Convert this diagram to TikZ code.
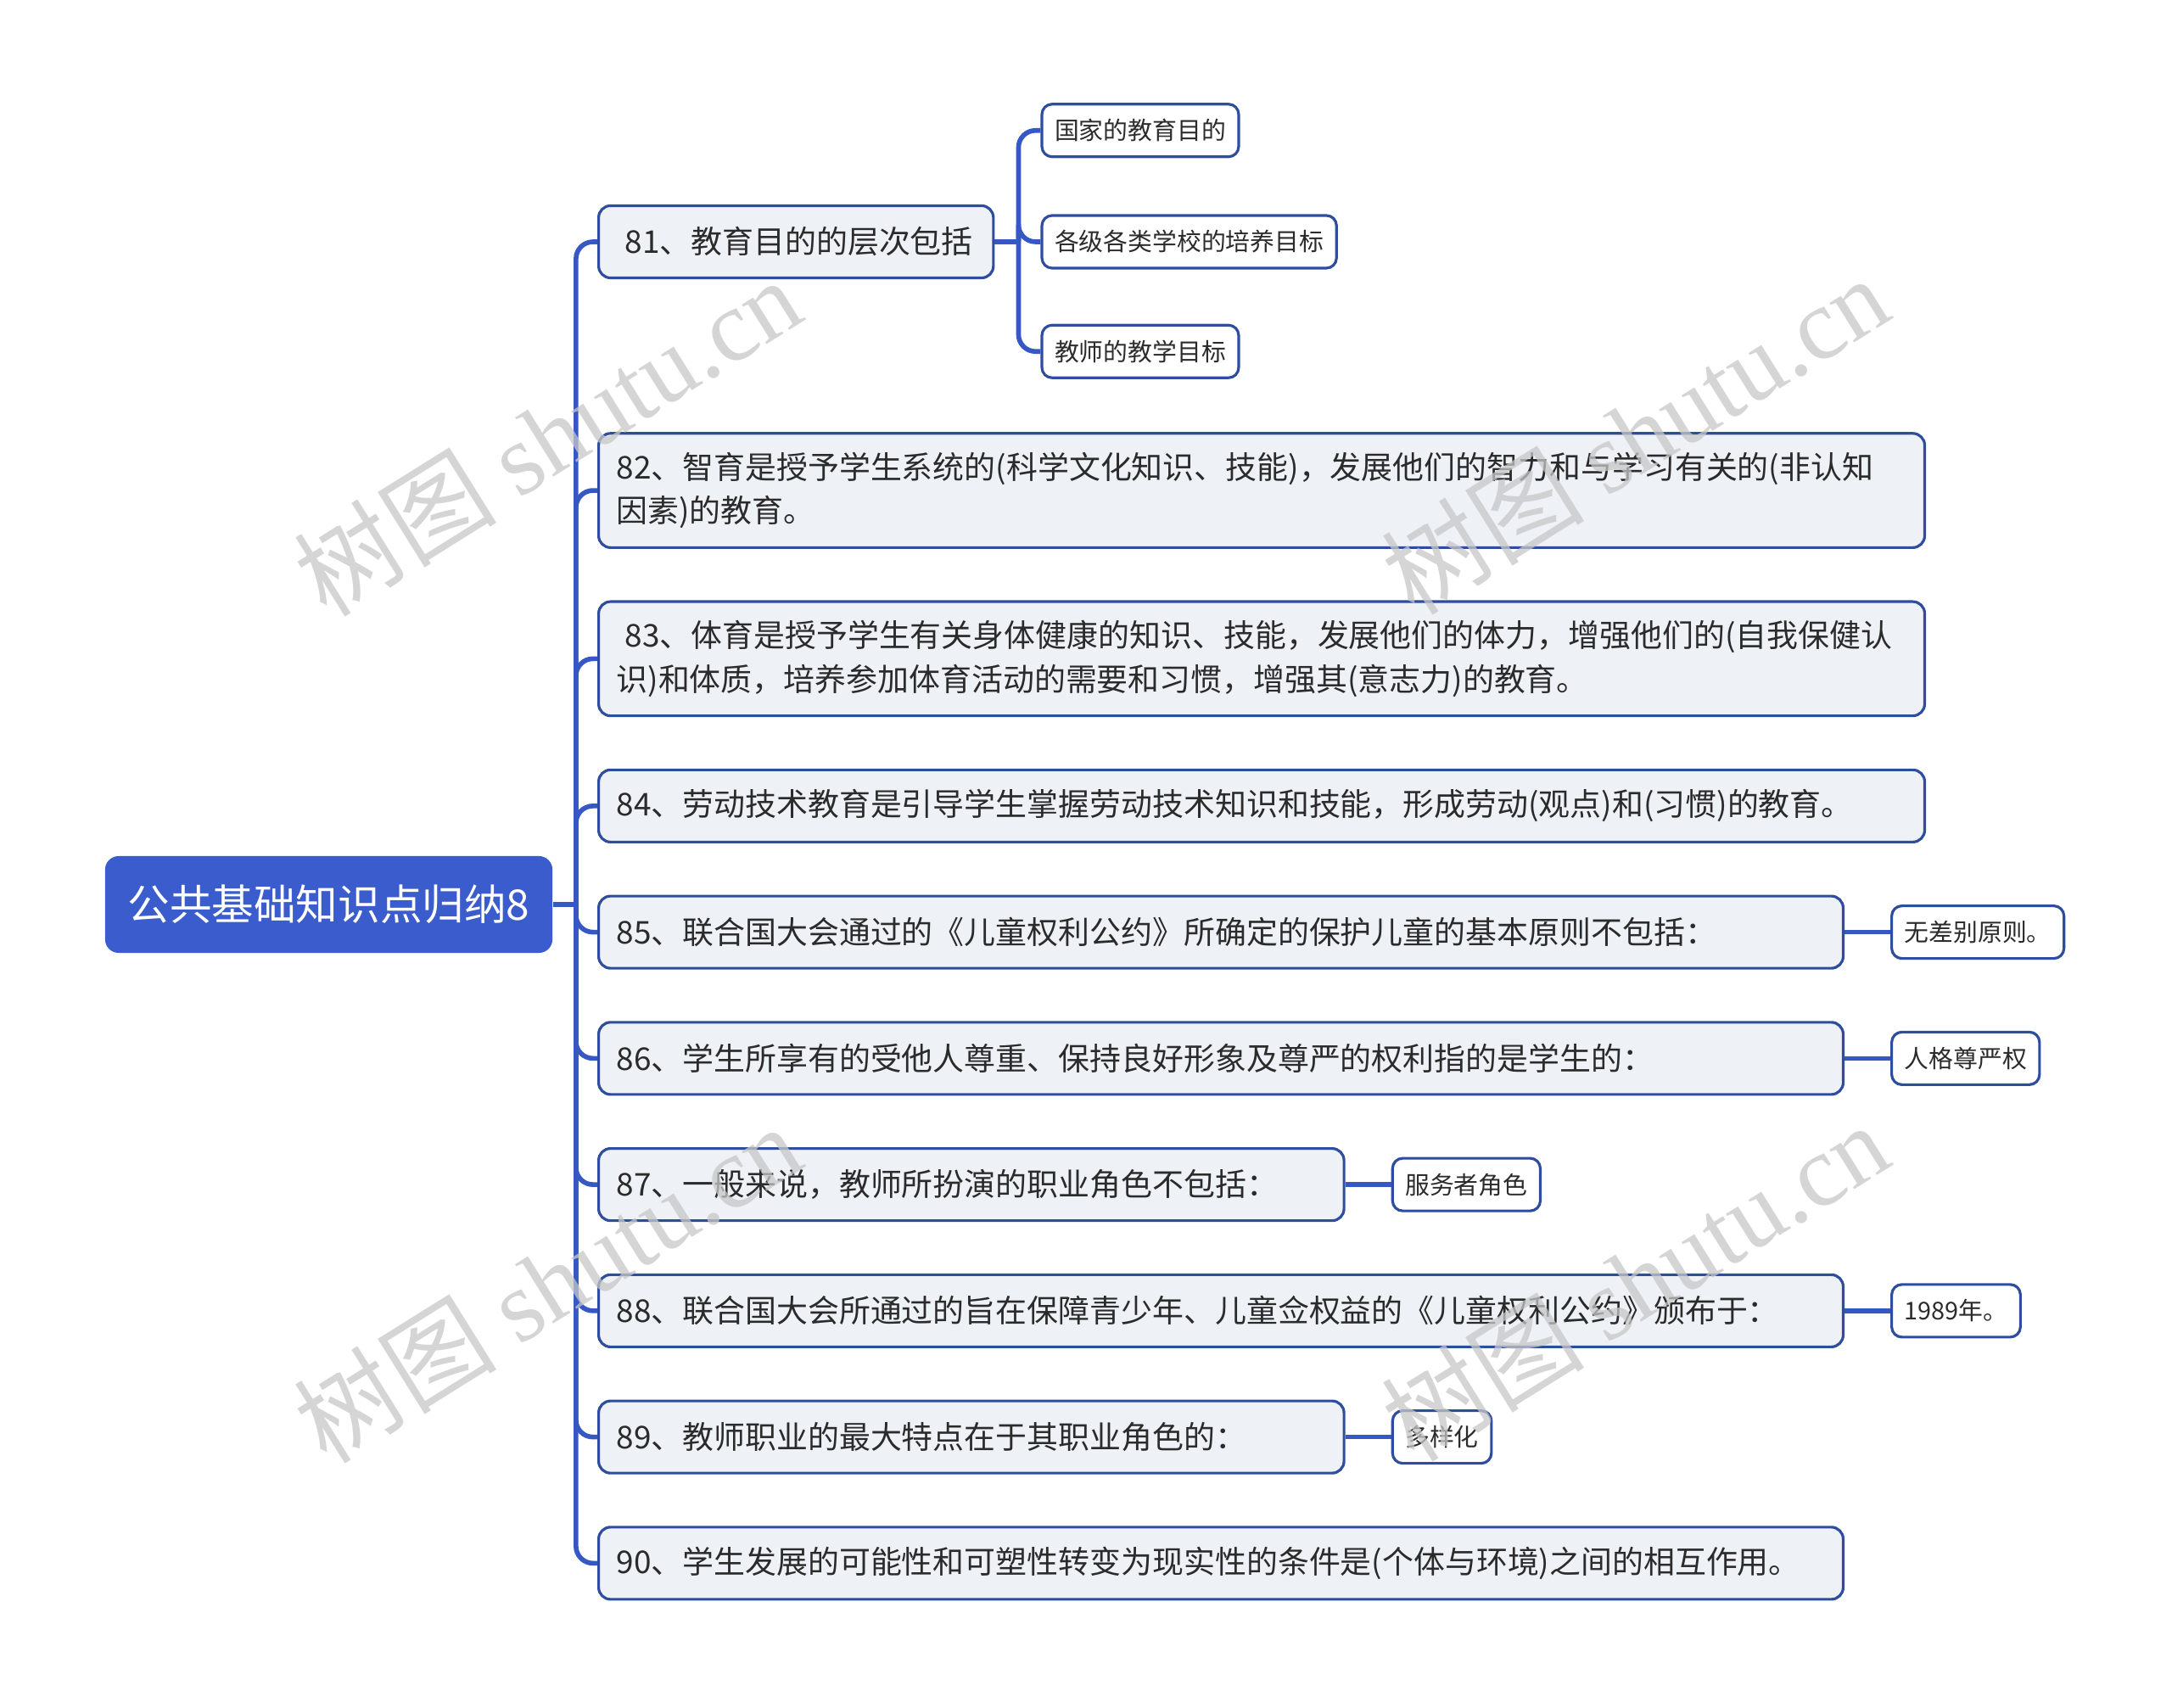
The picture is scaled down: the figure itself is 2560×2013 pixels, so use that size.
\documentclass[tikz,border=0pt]{standalone}
\usepackage{fontspec}
\setmainfont{Noto Sans CJK SC}
\newfontfamily\wmserif{Liberation Serif}
\usetikzlibrary{positioning}

\definecolor{rootblue}{HTML}{3A5CCC}
\definecolor{linkblue}{HTML}{3658C4}
\definecolor{edgeblue}{HTML}{2F4D9E}
\definecolor{topicfill}{HTML}{EEF1F6}
\definecolor{inkgray}{HTML}{2B2B2B}

\tikzset{
  root/.style={fill=rootblue, text=white, rounded corners=0.16cm, minimum width=5.27cm,
    minimum height=1.14cm, inner sep=0pt, font=\fontsize{14.1}{17}\selectfont},
  topic/.style={draw=edgeblue, fill=topicfill, text=inkgray, line width=0.9pt,
    rounded corners=0.14cm, align=left, inner xsep=0.21cm, inner ysep=0pt,
    minimum height=0.85cm, font=\fontsize{10.5}{14.6}\selectfont},
  twoline/.style={minimum height=1.345cm},
  leaf/.style={draw=edgeblue, fill=white, text=inkgray, line width=0.9pt,
    rounded corners=0.12cm, inner xsep=0.15cm, inner ysep=0pt, minimum height=0.62cm,
    font=\fontsize{8.2}{10}\selectfont},
  link/.style={draw=linkblue, line width=1.6pt},
  elbow/.style={link, rounded corners=0.2cm},
  watermark/.style={text=black!22, opacity=0.75, rotate=32, font=\fontsize{34}{38}\selectfont}
}

\begin{document}
\begin{tikzpicture}[x=0.01cm, y=-0.01cm]
    \useasboundingbox (0,0) rectangle (2560,2013);

    % root and first level
    \node [root] (root) at (387.5,1066) {公共基础知识点归纳8};

    \node [topic, text width=4.23cm, anchor=west] (n81) at (704,285)
        {\hspace*{0.1cm}81、教育目的的层次包括};
    \node [topic, twoline, text width=15.2cm, below=1.8cm of n81.south west, anchor=north west] (n82)
        {82、智育是授予学生系统的(科学文化知识、技能)，发展他们的智力和与学习有关的(非认知\\因素)的教育。};
    \node [topic, twoline, text width=15.2cm, below=0.605cm of n82.south west, anchor=north west] (n83)
        {\hspace*{0.1cm}83、体育是授予学生有关身体健康的知识、技能，发展他们的体力，增强他们的(自我保健认\\识)和体质，培养参加体育活动的需要和习惯，增强其(意志力)的教育。};
    \node [topic, text width=15.2cm, below=0.605cm of n83.south west, anchor=north west] (n84)
        {84、劳动技术教育是引导学生掌握劳动技术知识和技能，形成劳动(观点)和(习惯)的教育。};
    \node [topic, text width=14.24cm, below=0.605cm of n84.south west, anchor=north west] (n85)
        {85、联合国大会通过的《儿童权利公约》所确定的保护儿童的基本原则不包括：};
    \node [topic, text width=14.24cm, below=0.605cm of n85.south west, anchor=north west] (n86)
        {86、学生所享有的受他人尊重、保持良好形象及尊严的权利指的是学生的：};
    \node [topic, text width=8.36cm, below=0.605cm of n86.south west, anchor=north west] (n87)
        {87、一般来说，教师所扮演的职业角色不包括：};
    \node [topic, text width=14.24cm, below=0.605cm of n87.south west, anchor=north west] (n88)
        {88、联合国大会所通过的旨在保障青少年、儿童佥权益的《儿童权利公约》颁布于：};
    \node [topic, text width=8.36cm, below=0.605cm of n88.south west, anchor=north west] (n89)
        {89、教师职业的最大特点在于其职业角色的：};
    \node [topic, text width=14.24cm, below=0.605cm of n89.south west, anchor=north west] (n90)
        {90、学生发展的可能性和可塑性转变为现实性的条件是(个体与环境)之间的相互作用。};

    % answers
    \node [leaf, right=0.54cm of n81] (l812) {各级各类学校的培养目标};
    \node [leaf, above=0.66cm of l812.north west, anchor=south west] (l811) {国家的教育目的};
    \node [leaf, below=0.64cm of l812.south west, anchor=north west] (l813) {教师的教学目标};
    \node [leaf, right=0.54cm of n85] (l85) {无差别原则。};
    \node [leaf, right=0.54cm of n86] (l86) {人格尊严权};
    \node [leaf, right=0.54cm of n87] (l87) {服务者角色};
    \node [leaf, right=0.54cm of n88] (l88) {1989年。};
    \node [leaf, right=0.54cm of n89] (l89) {多样化};

    % connectors
    \coordinate [right=0.27cm of root] (hub);
    \draw [link] (root) -- (hub);
    \foreach \k in {81,...,90}
        \draw [elbow] (hub) |- (n\k.west);

    \coordinate [right=0.28cm of n81] (hub81);
    \draw [link] (n81) -- (hub81);
    \foreach \k in {1,2,3}
        \draw [elbow] (hub81) |- (l81\k.west);

    \foreach \k in {85,...,89}
        \draw [link] (n\k) -- (l\k);

    % watermark
    \node [watermark] (wm1) at (645,514) {树图 {\wmserif shutu.cn}};
    \node [watermark] (wm2) at (1927,512) {树图 {\wmserif shutu.cn}};
    \node [watermark] (wm3) at (645,1512) {树图 {\wmserif shutu.cn}};
    \node [watermark] (wm4) at (1927,1510) {树图 {\wmserif shutu.cn}};
\end{tikzpicture}
\end{document}
